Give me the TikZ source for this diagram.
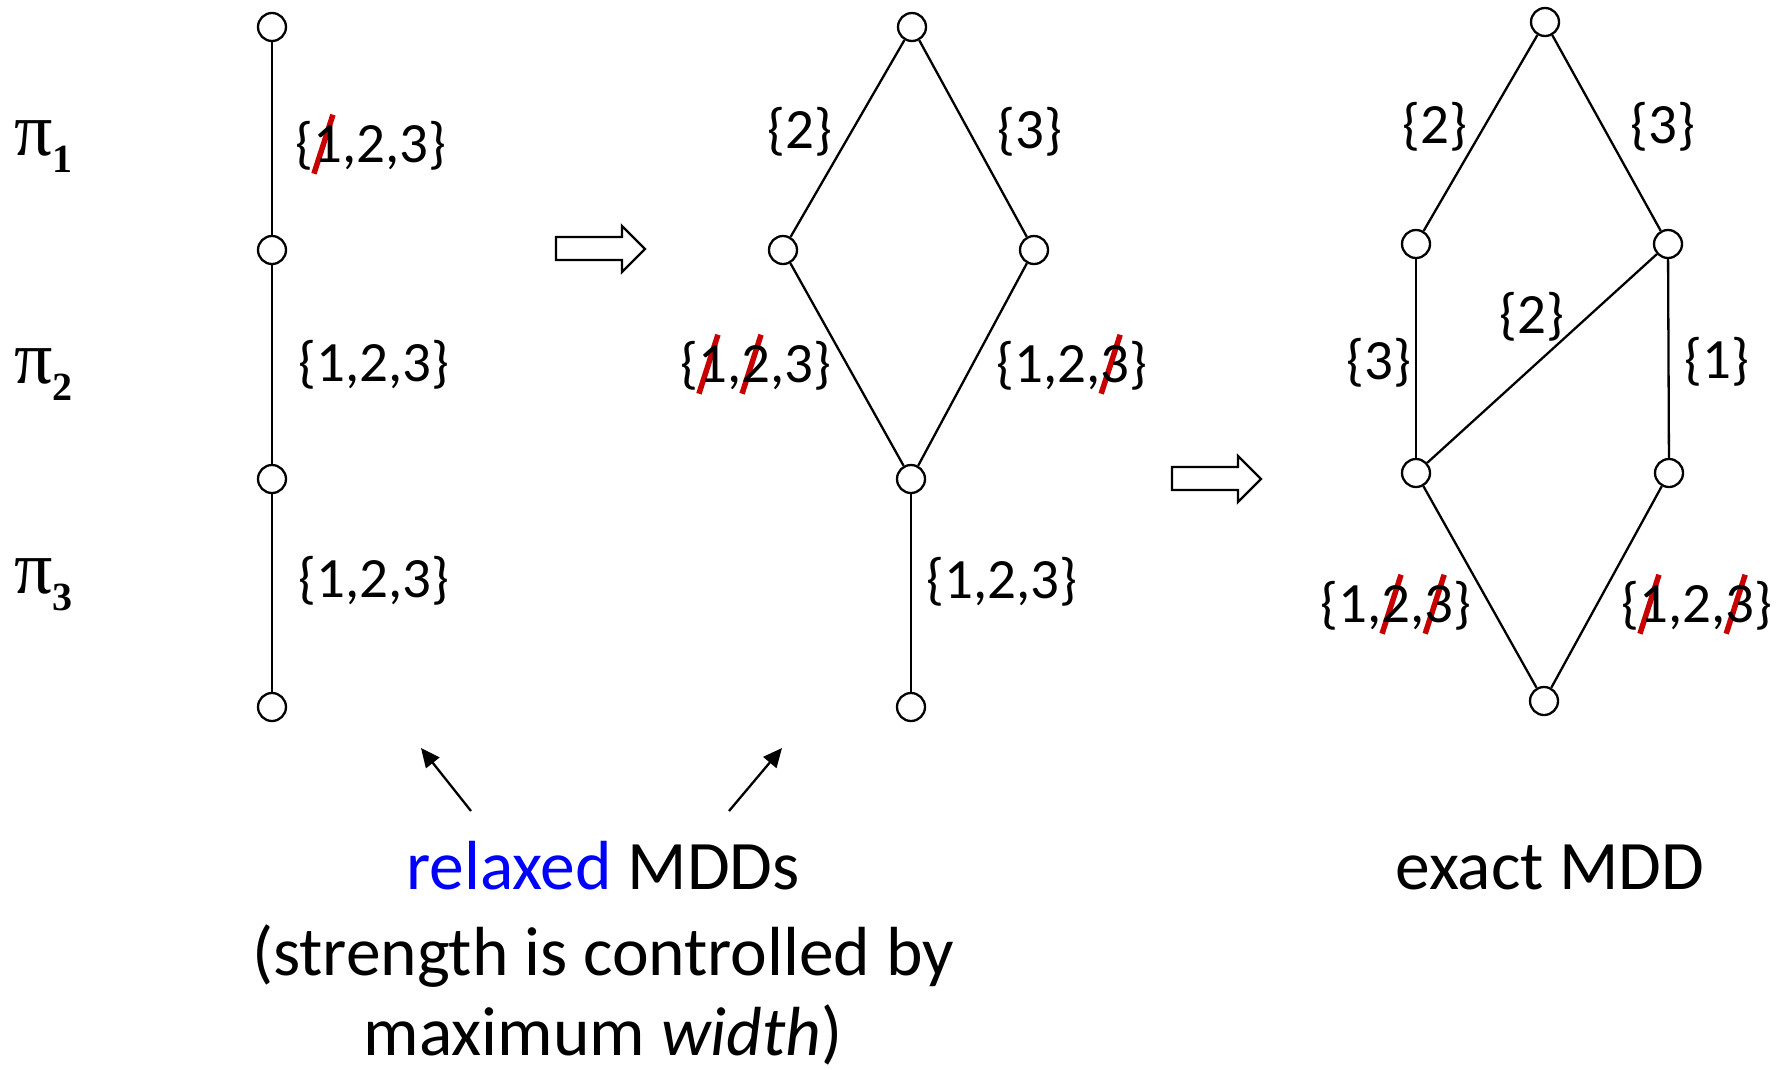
\documentclass[tikz,border=0pt]{standalone}
\usepackage{fontspec}
\setmainfont{Carlito}
\newfontfamily\pifont{Liberation Serif}
\usetikzlibrary{arrows.meta}
\definecolor{strk}{RGB}{200,0,0}
\definecolor{relblue}{RGB}{0,0,255}
\newcommand\sk[1]{\makebox[0pt][l]{\tikz[baseline=0pt]{\path (0pt,0pt);\draw[overlay,strk,line width=5.5pt] (0.5pt,-11pt) -- (19.5pt,48pt);}}#1}
\newcommand\pilab[1]{{\pifont\fontsize{76}{76}\selectfont π}\raisebox{-17pt}{\pifont\bfseries\fontsize{40}{40}\selectfont #1}}
\begin{document}
\begin{tikzpicture}[x=1pt,y=-1pt,
  dot/.style={circle,draw,line width=2.3pt,minimum size=28pt,inner sep=0pt,fill=white},
  edge/.style={line width=2.3pt},
  lab/.style={font=\fontsize{57}{60}\selectfont,inner sep=0pt},
  big/.style={font=\fontsize{69.5}{85}\selectfont,inner sep=0pt,anchor=base},
  blockarrow/.style={line width=2.3pt,line join=miter},
  pointer/.style={line width=2.3pt,-{Triangle[length=19pt,width=17pt]}}
]
\path[use as bounding box] (0,0) rectangle (1779,1069);

% pi labels
\node[anchor=base west,inner sep=0pt] (p1) at (14,155) {\pilab{1}};
\node[anchor=base west,inner sep=0pt] (p2) at (14,383) {\pilab{2}};
\node[anchor=base west,inner sep=0pt] (p3) at (14,593) {\pilab{3}};

% column 1
\node[dot] (a1) at (272,27) {};
\node[dot] (a2) at (272,250) {};
\node[dot] (a3) at (272,479) {};
\node[dot] (a4) at (272,707) {};
\draw[edge] (a1) -- (a2);
\draw[edge] (a2) -- (a3);
\draw[edge] (a3) -- (a4);
\node[lab] (la1) at (371,146) {\{\sk{1},2,3\}};
\node[lab] (la2) at (374,365) {\{1,2,3\}};
\node[lab] (la3) at (374,581) {\{1,2,3\}};

% column 2
\node[dot] (b1) at (912,27) {};
\node[dot] (b2) at (783,250) {};
\node[dot] (b3) at (1034,250) {};
\node[dot] (b4) at (911,479) {};
\node[dot] (b5) at (911,707) {};
\draw[edge] (b1) -- (b2);
\draw[edge] (b1) -- (b3);
\draw[edge] (b2) -- (b4);
\draw[edge] (b3) -- (b4);
\draw[edge] (b4) -- (b5);
\node[lab] (lb1) at (800,132) {\{2\}};
\node[lab] (lb2) at (1030,132) {\{3\}};
\node[lab] (lb3) at (756,366) {\{\sk{1},\sk{2},3\}};
\node[lab] (lb4) at (1072,366) {\{1,2,\sk{3}\}};
\node[lab] (lb5) at (1002,582) {\{1,2,3\}};

% column 3
\node[dot] (c1) at (1545,22) {};
\node[dot] (c2) at (1416,244) {};
\node[dot] (c3) at (1668,244) {};
\node[dot] (c4) at (1416,473) {};
\node[dot] (c5) at (1669,473) {};
\node[dot] (c6) at (1544,701) {};
\draw[edge] (c1) -- (c2);
\draw[edge] (c1) -- (c3);
\draw[edge] (c2) -- (c4);
\draw[edge] (c3) -- (c4);
\draw[edge] (c3) -- (c5);
\draw[edge] (c4) -- (c6);
\draw[edge] (c5) -- (c6);
\node[lab] (lc1) at (1435,127) {\{2\}};
\node[lab] (lc2) at (1663,127) {\{3\}};
\node[lab] (lc3) at (1379,363) {\{3\}};
\node[lab] (lc4) at (1532,317) {\{2\}};
\node[lab] (lc5) at (1717,362) {\{1\}};
\node[lab] (lc6) at (1396,606) {\{1,\sk{2},\sk{3}\}};
\node[lab] (lc7) at (1697,606) {\{\sk{1},2,\sk{3}\}};

% block arrows
\draw[blockarrow] (556,237) -- (622,237) -- (622,226) -- (645,249) -- (622,272) -- (622,260) -- (556,260) -- cycle;
\draw[blockarrow] (1172,467) -- (1238,467) -- (1238,456) -- (1261,479) -- (1238,502) -- (1238,490) -- (1172,490) -- cycle;

% pointers
\coordinate (s1) at (471,811);
\coordinate (e1) at (421,748);
\coordinate (s2) at (729,811);
\coordinate (e2) at (782,748);
\draw[pointer] (s1) -- (e1);
\draw[pointer] (s2) -- (e2);

% captions
\node[big] (t1) at (603,889) {\textcolor{relblue}{relaxed} MDDs};
\node[big] (t2) at (603,975) {(strength is controlled by};
\node[big] (t3) at (603,1055) {maximum \textit{width})};
\node[big] (t4) at (1550,889) {exact MDD};
\end{tikzpicture}
\end{document}
